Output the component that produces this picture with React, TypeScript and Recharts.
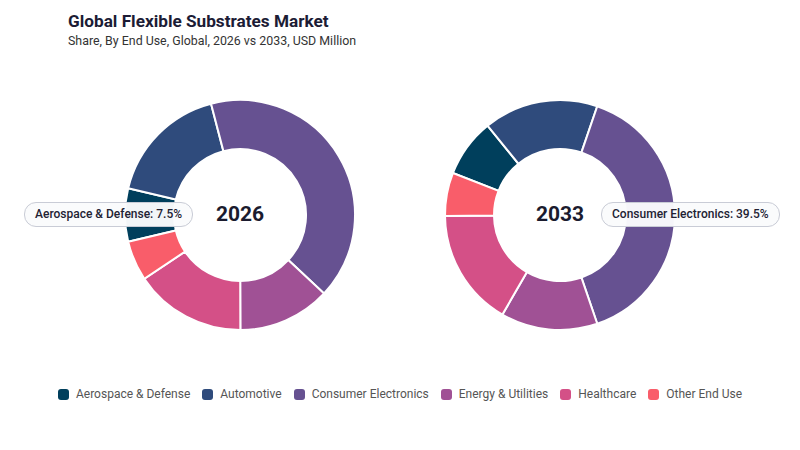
import { PieChart, Pie, Cell } from "recharts";

const END_USES = [
  "Aerospace & Defense",
  "Automotive",
  "Consumer Electronics",
  "Energy & Utilities",
  "Healthcare",
  "Other End Use",
];

// share of market, %
const SHARE_2026 = [7.5, 17.2, 41.0, 13.0, 15.7, 5.6];
const SHARE_2033 = [8.2, 16.1, 39.5, 13.6, 16.5, 6.1];
const YEARS = ["2026", "2033"];

const COLORS = ["#003f5c", "#2f4b7c", "#665191", "#a05195", "#d45087", "#f95d6a"];

const FONT = "Roboto, 'Noto Sans', sans-serif";

// rotate the donut so the highlighted slice is centred on `mid` (recharts degrees)
function startAngleFor(values: number[], idx: number, mid: number) {
  const total = values.reduce((s, v) => s + v, 0);
  const before = values.slice(0, idx).reduce((s, v) => s + v, 0);
  return mid + ((before + values[idx] / 2) / total) * 360;
}

function toRows(values: number[]) {
  return END_USES.map((name, i) => ({ name, value: values[i] }));
}

function Pill({ text, left, top }: { text: string; left: number; top: number }) {
  return (
    <div
      style={{
        position: "absolute",
        left,
        top,
        height: 23,
        lineHeight: "23px",
        padding: "0 10px",
        borderRadius: 12,
        border: "1px solid #c9ccd6",
        background: "rgba(250,251,252,0.97)",
        fontSize: 12,
        fontWeight: 500,
        color: "#222233",
        whiteSpace: "nowrap",
      }}
    >
      {text}
    </div>
  );
}

function CenterText({ text, x, y }: { text: string; x: number; y: number }) {
  return (
    <div
      style={{
        position: "absolute",
        left: x - 40,
        top: y - 13,
        width: 80,
        textAlign: "center",
        fontSize: 21,
        fontWeight: 700,
        lineHeight: "26px",
        color: "#1b1b2e",
      }}
    >
      {text}
    </div>
  );
}

export default function App() {
  const rows26 = toRows(SHARE_2026);
  const rows33 = toRows(SHARE_2033);
  const start26 = startAngleFor(SHARE_2026, 0, 180);
  const start33 = startAngleFor(SHARE_2033, 2, 0);

  return (
    <div
      style={{
        position: "absolute",
        left: 0,
        top: 0,
        width: 800,
        height: 450,
        background: "#fff",
        fontFamily: FONT,
      }}
    >
      <div style={{ position: "absolute", left: 68, top: 11, fontSize: 17.2, fontWeight: 700, color: "#1c1c35" }}>
        Global Flexible Substrates Market
      </div>
      <div style={{ position: "absolute", left: 68, top: 33, fontSize: 12.4, color: "#333" }}>
        Share, By End Use, Global, 2026 vs 2033, USD Million
      </div>

      <div style={{ position: "absolute", left: 0, top: 0 }}>
        <PieChart width={800} height={430} margin={{ top: 0, right: 0, bottom: 0, left: 0 }}>
          <Pie
            data={rows26}
            dataKey="value"
            nameKey="name"
            cx={240}
            cy={215}
            innerRadius={66}
            outerRadius={115}
            startAngle={start26}
            endAngle={start26 - 360}
            stroke="#fff"
            strokeWidth={2}
            isAnimationActive={false}
          >
            {rows26.map((r, i) => (
              <Cell key={r.name} fill={COLORS[i]} />
            ))}
          </Pie>
          <Pie
            data={rows33}
            dataKey="value"
            nameKey="name"
            cx={560}
            cy={215}
            innerRadius={66}
            outerRadius={115}
            startAngle={start33}
            endAngle={start33 - 360}
            stroke="#fff"
            strokeWidth={2}
            isAnimationActive={false}
          >
            {rows33.map((r, i) => (
              <Cell key={r.name} fill={COLORS[i]} />
            ))}
          </Pie>
        </PieChart>
      </div>

      <CenterText text={YEARS[0]} x={240} y={214} />
      <CenterText text={YEARS[1]} x={560} y={214} />

      <Pill text={`${END_USES[0]}: ${SHARE_2026[0].toFixed(1)}%`} left={24} top={202} />
      <Pill text={`${END_USES[2]}: ${SHARE_2033[2].toFixed(1)}%`} left={601} top={202} />

      <div
        style={{
          position: "absolute",
          left: 0,
          top: 387,
          width: 800,
          display: "flex",
          justifyContent: "center",
          gap: 12,
          fontSize: 12,
          color: "#555",
        }}
      >
        {END_USES.map((name, i) => (
          <div key={name} style={{ display: "flex", alignItems: "center", gap: 7 }}>
            <span style={{ width: 11, height: 11, borderRadius: 3, background: COLORS[i], display: "inline-block" }} />
            <span>{name}</span>
          </div>
        ))}
      </div>
    </div>
  );
}
